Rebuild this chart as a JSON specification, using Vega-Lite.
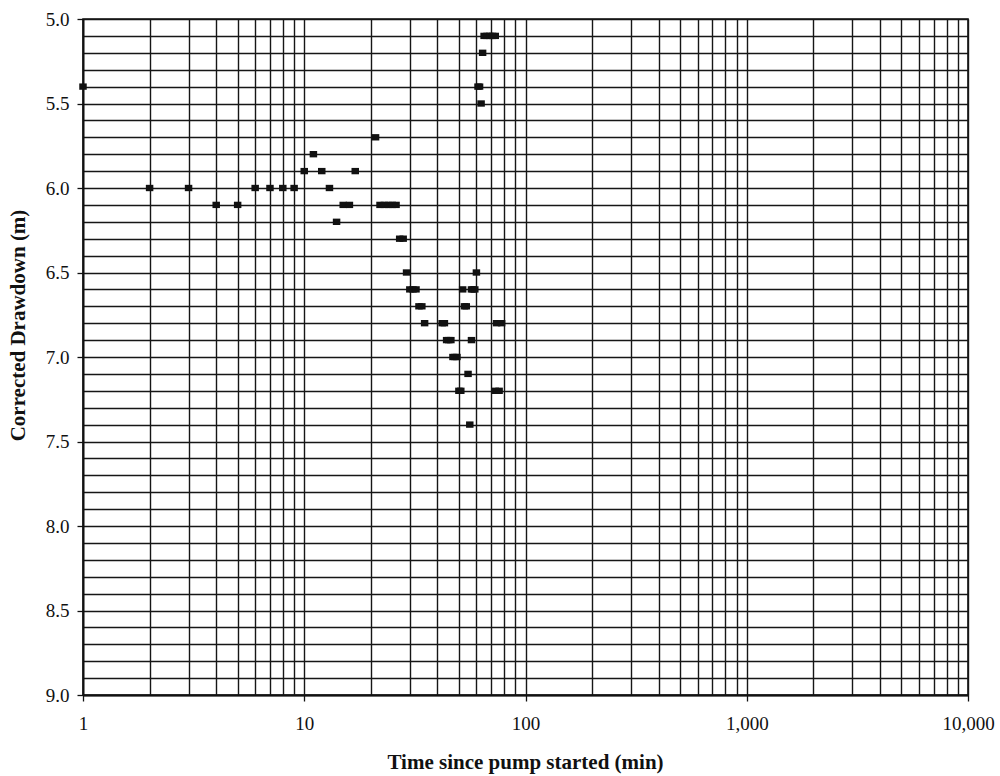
{
  "$schema": "https://vega.github.io/schema/vega-lite/v6.json",
  "autosize": "none",
  "width": 885,
  "height": 676,
  "padding": {"left": 83, "top": 19, "right": 32, "bottom": 81},
  "background": "white",
  "config": {
    "font": "Liberation Serif",
    "view": {"stroke": "#111111", "strokeWidth": 1.6},
    "axis": {
      "labelFont": "Liberation Serif",
      "titleFont": "Liberation Serif",
      "labelColor": "#111111",
      "titleColor": "#111111",
      "gridColor": "#161616",
      "gridWidth": 1.4,
      "gridOpacity": 1,
      "domainColor": "#111111",
      "domainWidth": 1.8,
      "tickColor": "#111111",
      "tickWidth": 1.3
    }
  },
  "data": {
    "values": [
      {"time": 1, "drawdown": 5.4},
      {"time": 2, "drawdown": 6.0},
      {"time": 3, "drawdown": 6.0},
      {"time": 4, "drawdown": 6.1},
      {"time": 5, "drawdown": 6.1},
      {"time": 6, "drawdown": 6.0},
      {"time": 7, "drawdown": 6.0},
      {"time": 8, "drawdown": 6.0},
      {"time": 9, "drawdown": 6.0},
      {"time": 10, "drawdown": 5.9},
      {"time": 11, "drawdown": 5.8},
      {"time": 12, "drawdown": 5.9},
      {"time": 13, "drawdown": 6.0},
      {"time": 14, "drawdown": 6.2},
      {"time": 15, "drawdown": 6.1},
      {"time": 16, "drawdown": 6.1},
      {"time": 17, "drawdown": 5.9},
      {"time": 21, "drawdown": 5.7},
      {"time": 22, "drawdown": 6.1},
      {"time": 23, "drawdown": 6.1},
      {"time": 24, "drawdown": 6.1},
      {"time": 25, "drawdown": 6.1},
      {"time": 26, "drawdown": 6.1},
      {"time": 27, "drawdown": 6.3},
      {"time": 28, "drawdown": 6.3},
      {"time": 29, "drawdown": 6.5},
      {"time": 30, "drawdown": 6.6},
      {"time": 31, "drawdown": 6.6},
      {"time": 32, "drawdown": 6.6},
      {"time": 33, "drawdown": 6.7},
      {"time": 34, "drawdown": 6.7},
      {"time": 35, "drawdown": 6.8},
      {"time": 42, "drawdown": 6.8},
      {"time": 43, "drawdown": 6.8},
      {"time": 44, "drawdown": 6.9},
      {"time": 45, "drawdown": 6.9},
      {"time": 46, "drawdown": 6.9},
      {"time": 47, "drawdown": 7.0},
      {"time": 48, "drawdown": 7.0},
      {"time": 49, "drawdown": 7.0},
      {"time": 50, "drawdown": 7.2},
      {"time": 51, "drawdown": 7.2},
      {"time": 52, "drawdown": 6.6},
      {"time": 53, "drawdown": 6.7},
      {"time": 54, "drawdown": 6.7},
      {"time": 55, "drawdown": 7.1},
      {"time": 56, "drawdown": 7.4},
      {"time": 57, "drawdown": 6.9},
      {"time": 57, "drawdown": 6.6},
      {"time": 58, "drawdown": 6.6},
      {"time": 59, "drawdown": 6.6},
      {"time": 60, "drawdown": 6.5},
      {"time": 61, "drawdown": 5.4},
      {"time": 62, "drawdown": 5.4},
      {"time": 63, "drawdown": 5.5},
      {"time": 64, "drawdown": 5.2},
      {"time": 65, "drawdown": 5.1},
      {"time": 67, "drawdown": 5.1},
      {"time": 69, "drawdown": 5.1},
      {"time": 71, "drawdown": 5.1},
      {"time": 73, "drawdown": 5.1},
      {"time": 73, "drawdown": 7.2},
      {"time": 76, "drawdown": 7.2},
      {"time": 74, "drawdown": 6.8},
      {"time": 78, "drawdown": 6.8}
    ]
  },
  "mark": {
    "type": "point",
    "shape": "M -1 -0.85 L 1 -0.85 L 1 0.85 L -1 0.85 Z",
    "filled": true,
    "color": "#111111",
    "opacity": 1,
    "size": 56
  },
  "encoding": {
    "x": {
      "field": "time",
      "type": "quantitative",
      "scale": {"type": "log", "domain": [1, 10000], "nice": false},
      "axis": {
        "title": "Time since pump started (min)",
        "titleFontSize": 21,
        "titleFontWeight": "bold",
        "titleX": 442,
        "titleY": 67,
        "titleBaseline": "middle",
        "values": [1, 2, 3, 4, 5, 6, 7, 8, 9, 10, 20, 30, 40, 50, 60, 70, 80, 90, 100, 200, 300, 400, 500, 600, 700, 800, 900, 1000, 2000, 3000, 4000, 5000, 6000, 7000, 8000, 9000, 10000],
        "labelExpr": "indexof([1, 10, 100, 1000, 10000], datum.value) >= 0 ? format(datum.value, ',') : ''",
        "labelOverlap": false,
        "labelFlush": false,
        "labelFontSize": 19,
        "labelPadding": 13,
        "tickSize": 6,
        "tickOpacity": {"condition": {"test": "indexof([1, 10, 100, 1000, 10000], datum.value) >= 0", "value": 1}, "value": 0},
        "grid": true
      }
    },
    "y": {
      "field": "drawdown",
      "type": "quantitative",
      "scale": {"domain": [5, 9], "reverse": true, "nice": false, "zero": false},
      "axis": {
        "title": "Corrected Drawdown (m)",
        "titleFontSize": 21,
        "titleFontWeight": "bold",
        "titleX": -65,
        "titleY": 306,
        "titleAngle": -90,
        "titleAlign": "center",
        "titleBaseline": "middle",
        "values": [5.0, 5.1, 5.2, 5.3, 5.4, 5.5, 5.6, 5.7, 5.8, 5.9, 6.0, 6.1, 6.2, 6.3, 6.4, 6.5, 6.6, 6.7, 6.8, 6.9, 7.0, 7.1, 7.2, 7.3, 7.4, 7.5, 7.6, 7.7, 7.8, 7.9, 8.0, 8.1, 8.2, 8.3, 8.4, 8.5, 8.6, 8.7, 8.8, 8.9, 9.0],
        "labelExpr": "abs(datum.value * 2 - round(datum.value * 2)) < 0.001 ? format(datum.value, '.1f') : ''",
        "labelOverlap": false,
        "labelFlush": false,
        "labelFontSize": 19,
        "labelPadding": 8,
        "tickSize": 6,
        "tickOpacity": {"condition": {"test": "abs(datum.value * 2 - round(datum.value * 2)) < 0.001", "value": 1}, "value": 0},
        "grid": true
      }
    }
  }
}
